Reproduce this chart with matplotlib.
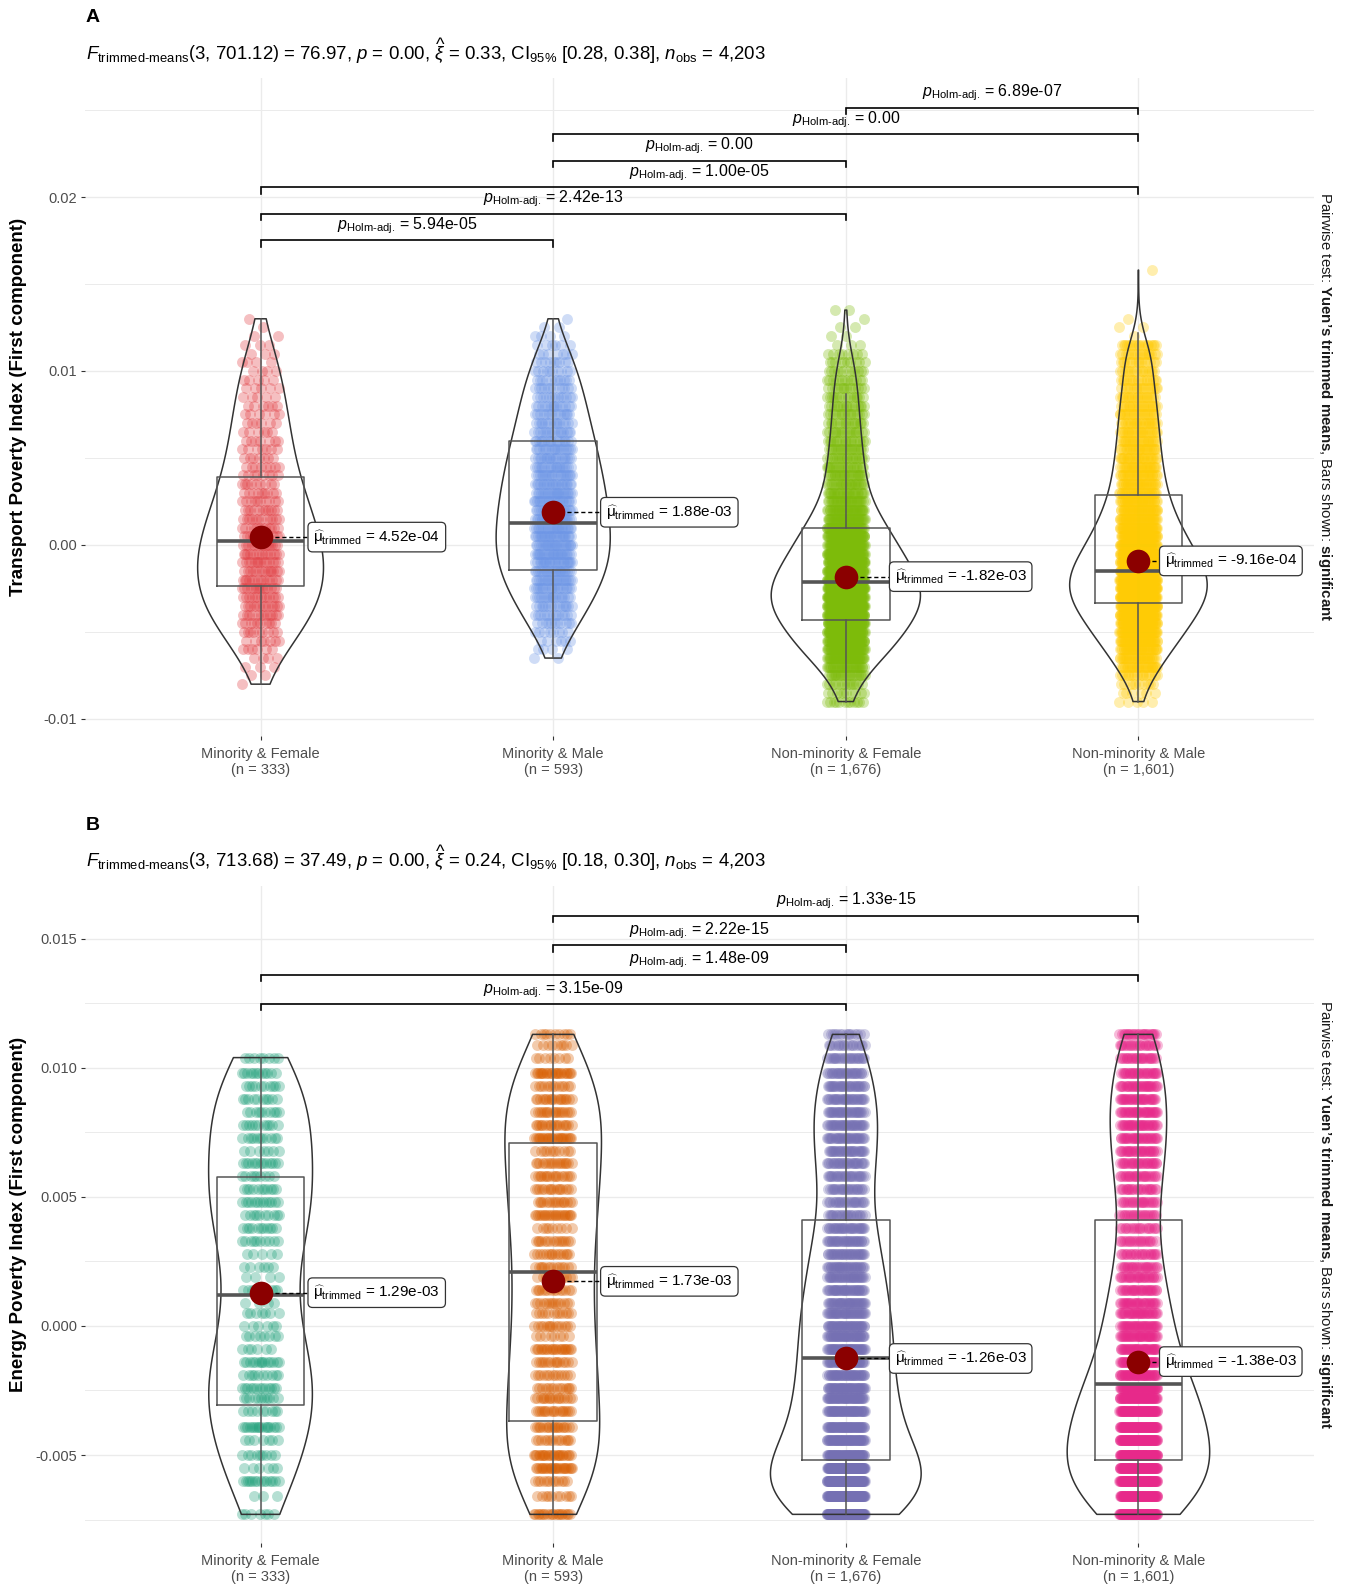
import numpy as np
import matplotlib
matplotlib.use('Agg')
import matplotlib.pyplot as plt

plt.rcParams['font.family'] = ['Liberation Sans', 'DejaVu Sans']
plt.rcParams['mathtext.fontset'] = 'custom'
plt.rcParams['mathtext.rm'] = 'Liberation Sans'
plt.rcParams['mathtext.it'] = 'Liberation Sans:italic'
plt.rcParams['mathtext.bf'] = 'Liberation Sans:bold'
plt.rcParams['mathtext.sf'] = 'Liberation Sans'

W, H = 1346, 1585

groups = ['Minority & Female', 'Minority & Male', 'Non-minority & Female', 'Non-minority & Male']
group_n = [333, 593, 1676, 1601]

# ---- panel A : transport poverty index ----
# observed index values (x 1e-3) and number of households at each value
transport_levels = [-9.0, -8.5, -8.0, -7.5, -7.0, -6.5, -6.0, -5.5, -5.0, -4.5,
                    -4.0, -3.5, -3.0, -2.5, -2.0, -1.5, -1.0, -0.5, 0.0, 0.5,
                    1.0, 1.5, 2.0, 2.5, 3.0, 3.5, 4.0, 4.5, 5.0, 5.5,
                    6.0, 6.5, 7.0, 7.5, 8.0, 8.5, 9.0, 9.5, 10.0, 10.5,
                    11.0, 11.5, 12.0, 12.5, 13.0, 13.5, 15.8]
transport_counts = [
    [0, 0, 1, 2, 3, 4, 6, 7, 9, 10,
     12, 13, 13, 14, 14, 14, 14, 14, 14, 12,
     12, 12, 11, 10, 9, 9, 8, 8, 7, 7,
     7, 6, 6, 6, 6, 5, 5, 5, 4, 4,
     3, 3, 2, 1, 1, 0, 0],
    [0, 0, 0, 0, 0, 2, 4, 6, 8, 11,
     13, 15, 17, 19, 21, 22, 23, 24, 24, 24,
     23, 23, 22, 22, 22, 21, 20, 19, 19, 18,
     17, 16, 15, 14, 14, 13, 12, 11, 10, 9,
     7, 6, 4, 2, 1, 0, 0],
    [12, 10, 14, 22, 32, 48, 56, 64, 71, 76,
     90, 92, 95, 94, 91, 79, 75, 69, 62, 57,
     51, 42, 37, 30, 27, 25, 24, 22, 21, 20,
     19, 18, 17, 16, 16, 15, 14, 13, 12, 10,
     8, 3, 2, 2, 1, 2, 0],
    [5, 6, 10, 16, 27, 32, 38, 46, 54, 61,
     67, 73, 83, 86, 87, 77, 73, 67, 60, 53,
     49, 44, 39, 36, 32, 31, 29, 28, 27, 25,
     24, 24, 23, 22, 21, 20, 18, 17, 16, 15,
     17, 18, 1, 2, 1, 0, 1],
]
transport_q1 = [-2.36e-3, -1.45e-3, -4.30e-3, -3.33e-3]
transport_med = [0.20e-3, 1.27e-3, -2.10e-3, -1.49e-3]
transport_q3 = [3.91e-3, 6.00e-3, 0.98e-3, 2.87e-3]
transport_whislo = [-8.0e-3, -6.5e-3, -9.0e-3, -9.0e-3]
transport_whishi = [13.0e-3, 13.0e-3, 8.7e-3, 12.2e-3]
transport_tmean = [4.52e-04, 1.88e-03, -1.82e-03, -9.16e-04]
transport_pairs = [(1, 2), (1, 3), (1, 4), (2, 3), (2, 4), (3, 4)]
transport_padj = ['5.94e-05', '2.42e-13', '1.00e-05', '0.00', '0.00', '6.89e-07']
transport_colors = ['#E0393E', '#6C95E6', '#7DBB0A', '#FFCB05']
transport_subtitle = (r'$F_{\text{trimmed-means}}\left(3,\,701.12\right)$ = 76.97, $p$ = 0.00, '
                      r'$\widehat{\xi}$ = 0.33, CI$_{95\%}$ [0.28, 0.38], $n_{\text{obs}}$ = 4,203')

# ---- panel B : energy poverty index ----
energy_levels = [-7.3, -6.6, -6.0, -5.5, -5.0, -4.4, -3.9, -3.3, -2.8, -2.4,
                 -1.9, -1.4, -0.9, -0.4, 0.0, 0.5, 0.9, 1.4, 1.9, 2.3,
                 2.8, 3.3, 3.8, 4.3, 4.8, 5.3, 5.8, 6.3, 6.8, 7.3,
                 7.8, 8.3, 8.8, 9.3, 9.8, 10.4, 10.9, 11.3]
energy_counts = [
    [7, 3, 14, 6, 9, 7, 17, 9, 11, 13,
     10, 14, 6, 8, 6, 7, 4, 11, 4, 6,
     5, 10, 11, 10, 13, 11, 9, 13, 7, 11,
     11, 10, 10, 10, 12, 8, 0, 0],
    [20, 10, 12, 26, 24, 14, 19, 18, 17, 14,
     13, 15, 22, 8, 14, 12, 14, 14, 12, 14,
     15, 15, 9, 22, 16, 16, 17, 17, 11, 25,
     18, 18, 18, 13, 24, 8, 9, 10],
    [120, 105, 107, 101, 66, 60, 56, 53, 51, 49,
     44, 40, 48, 45, 42, 40, 38, 37, 36, 35,
     34, 33, 31, 23, 24, 25, 27, 29, 31, 33,
     34, 32, 31, 30, 28, 25, 18, 15],
    [90, 85, 92, 88, 87, 82, 78, 75, 63, 60,
     46, 43, 39, 37, 34, 32, 30, 28, 26, 24,
     22, 20, 19, 21, 22, 23, 25, 27, 29, 31,
     31, 32, 31, 30, 28, 25, 22, 24],
]
energy_q1 = [-3.06e-3, -3.68e-3, -5.20e-3, -5.20e-3]
energy_med = [1.20e-3, 2.09e-3, -1.24e-3, -2.26e-3]
energy_q3 = [5.78e-3, 7.09e-3, 4.12e-3, 4.12e-3]
energy_whislo = [-7.3e-3, -7.3e-3, -7.3e-3, -7.3e-3]
energy_whishi = [10.4e-3, 11.3e-3, 11.3e-3, 11.3e-3]
energy_tmean = [1.29e-03, 1.73e-03, -1.26e-03, -1.38e-03]
energy_pairs = [(1, 3), (1, 4), (2, 3), (2, 4)]
energy_padj = ['3.15e-09', '1.48e-09', '2.22e-15', '1.33e-15']
energy_colors = ['#1B9E77', '#D95F02', '#7570B3', '#E7298A']
energy_subtitle = (r'$F_{\text{trimmed-means}}\left(3,\,713.68\right)$ = 37.49, $p$ = 0.00, '
                   r'$\widehat{\xi}$ = 0.24, CI$_{95\%}$ [0.18, 0.30], $n_{\text{obs}}$ = 4,203')

caption = r'Pairwise test: $\mathbf{Yuen’s\ trimmed\ means}$, Bars shown: $\mathbf{significant}$'

# horizontal gap between each group centre and its mean label (x units)
label_dx = [0.162, 0.162, 0.149, 0.072]


def fx(px):
    return px / W


def fy(py):
    return 1 - py / H


def draw_panel(ax, levels, counts, colors, q1, med, q3, lo, hi, tmean,
               vwidths, pairs, padj, bar_y0, bar_step, ylim, ticks, ticklabels, minor):
    pos = np.arange(1, 5)
    data = [np.repeat(np.array(levels) * 1e-3, c) for c in counts]

    # jittered raw observations
    golden = 0.6180339887
    for i, d in enumerate(data):
        k = np.arange(len(d))
        jit = ((k * golden) % 1.0 - 0.5) * 2 * 0.065
        ax.scatter(pos[i] + jit, d, s=62, color=colors[i], alpha=0.32,
                   linewidths=0, zorder=2)

    vp = ax.violinplot(data, positions=pos, widths=vwidths, showextrema=False,
                       bw_method='silverman', points=300)
    for body in vp['bodies']:
        body.set_alpha(1)
        body.set_facecolor('none')
        body.set_edgecolor('#333333')
        body.set_linewidth(1.1)
        body.set_zorder(3)

    stats = [dict(med=med[i], q1=q1[i], q3=q3[i], whislo=lo[i], whishi=hi[i])
             for i in range(4)]
    ax.bxp(stats, positions=pos, widths=0.3, showfliers=False, showcaps=False,
           manage_ticks=False, zorder=4,
           boxprops=dict(color='#555555', lw=1.1),
           medianprops=dict(color='#555555', lw=2.6),
           whiskerprops=dict(color='#555555', lw=1.1))

    # trimmed means with their labels
    for i in range(4):
        ax.plot([pos[i], pos[i] + label_dx[i]], [tmean[i], tmean[i]], ls=(0, (3, 2)),
                color='black', lw=1.0, zorder=5)
        ax.scatter(pos[i], tmean[i], s=290, color='#8B0000', linewidths=0, zorder=6)
        ax.text(pos[i] + label_dx[i] + 0.0183, tmean[i],
                r'$\widehat{\mathrm{\mu}}_{\mathrm{trimmed}}$ = ' + f'{tmean[i]:.2e}',
                ha='left', va='center', fontsize=11, zorder=7,
                bbox=dict(boxstyle='round,pad=0.35,rounding_size=0.3',
                          fc='white', ec='#333333', lw=0.9))

    # significance bars
    tip = 0.01 * (ylim[1] - ylim[0])
    for j, ((a, b), p) in enumerate(zip(pairs, padj)):
        y = bar_y0 + j * bar_step
        ax.plot([a, a, b, b], [y - tip, y, y, y - tip], color='black', lw=1.2,
                zorder=5, solid_joinstyle='miter')
        ax.annotate(r'$p_{\text{Holm-adj.}}$ = ' + p, xy=((a + b) / 2, y),
                    xytext=(0, 8), textcoords='offset points',
                    ha='center', va='baseline', fontsize=11.5)

    ax.set_xlim(0.4, 4.6)
    ax.set_ylim(*ylim)
    ax.set_xticks(pos, [f'{g}\n(n = {n:,})' for g, n in zip(groups, group_n)])
    ax.set_yticks(ticks, ticklabels)
    ax.set_yticks(minor, minor=True)
    ax.tick_params(axis='both', which='major', length=2.8, width=0.8,
                   color='#333333', labelcolor='#4D4D4D', labelsize=10.5)
    ax.tick_params(axis='x', pad=5)
    ax.tick_params(axis='y', pad=3)
    ax.tick_params(which='minor', length=0)
    for lab in ax.get_xticklabels():
        lab.set_linespacing(1.2)
    ax.grid(True, which='major', color='#EBEBEB', lw=1.0)
    ax.grid(True, which='minor', axis='y', color='#EBEBEB', lw=0.7)
    ax.set_axisbelow(True)
    for s in ax.spines.values():
        s.set_visible(False)


fig = plt.figure(figsize=(W / 100, H / 100), dpi=100)

# panel A
top_a, bot_a = 78, 736
ax_a = fig.add_axes([fx(85), fy(bot_a), fx(1314) - fx(85), (bot_a - top_a) / H])
draw_panel(ax_a, transport_levels, transport_counts, transport_colors,
           transport_q1, transport_med, transport_q3, transport_whislo, transport_whishi,
           transport_tmean, [0.43, 0.39, 0.51, 0.47],
           transport_pairs, transport_padj, 0.01753, 0.00152,
           (-0.01098, 0.02684), [-0.01, 0.0, 0.01, 0.02],
           ['-0.01', '0.00', '0.01', '0.02'], [-0.005, 0.005, 0.015, 0.025])

# panel B
top_b, bot_b = 886, 1543
ax_b = fig.add_axes([fx(85), fy(bot_b), fx(1314) - fx(85), (bot_b - top_b) / H])
draw_panel(ax_b, energy_levels, energy_counts, energy_colors,
           energy_q1, energy_med, energy_q3, energy_whislo, energy_whishi,
           energy_tmean, [0.355, 0.33, 0.515, 0.487],
           energy_pairs, energy_padj, 0.01248, 0.00114,
           (-0.00841, 0.01705), [-0.005, 0.0, 0.005, 0.010, 0.015],
           ['-0.005', '0.000', '0.005', '0.010', '0.015'],
           [-0.0075, -0.0025, 0.0025, 0.0075, 0.0125])

for letter, ly, sub, sy, ylab, top, bot in [
        ('A', 18, transport_subtitle, 60, 'Transport Poverty Index (First component)', top_a, bot_a),
        ('B', 826, energy_subtitle, 867, 'Energy Poverty Index (First component)', top_b, bot_b)]:
    fig.text(fx(86), fy(ly), letter, fontsize=14, fontweight='bold', ha='left', va='center')
    fig.text(fx(86), fy(sy), sub, fontsize=13.4, ha='left', va='baseline')
    fig.text(fx(19), fy((top + bot) / 2), ylab, rotation=90, fontsize=13.5,
             fontweight='bold', ha='center', va='center')
    fig.text(fx(1325), fy((top + bot) / 2), caption, rotation=270, fontsize=10.8,
             ha='center', va='center', color='#1A1A1A')

fig.savefig('out.png', dpi=100)
